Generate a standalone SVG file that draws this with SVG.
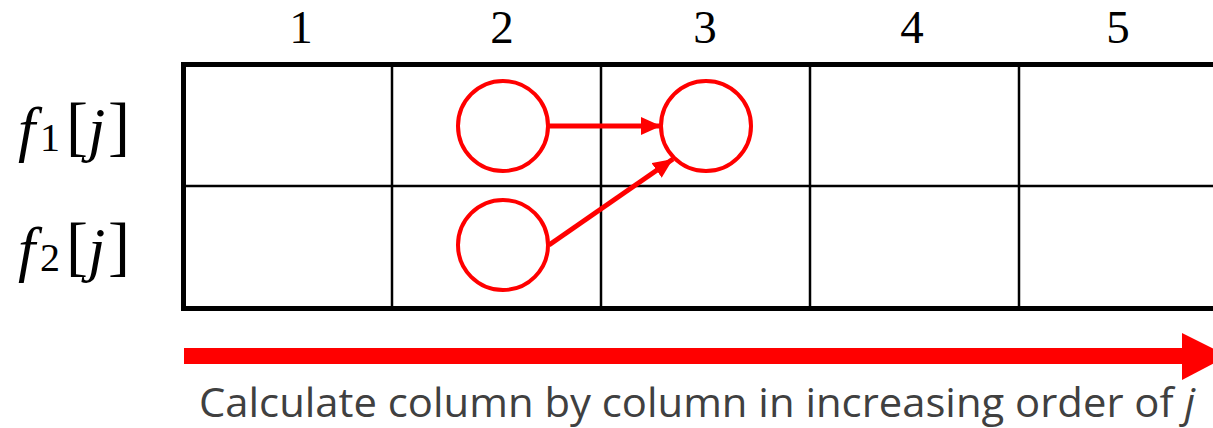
<svg xmlns="http://www.w3.org/2000/svg" width="1213" height="428" viewBox="0 0 1213 428">
<style>
.num{font-family:"Liberation Serif",serif;font-size:47px;fill:#000;text-anchor:middle}
.lab{font-family:"Liberation Serif",serif;font-size:62px;fill:#000}
.it{font-style:italic}
.sub{font-size:40px}
.br{font-size:66px}
.thin{stroke:#000;stroke-width:2.5;fill:none}
.thick{stroke:#000;stroke-width:5;fill:none}
.node{fill:none;stroke:#ff0000;stroke-width:4}
.edge{stroke:#ff0000;stroke-width:5;fill:none}
.cap{font-family:"Open Sans","Noto Sans",sans-serif;font-size:41px;fill:#404040}
</style>
<defs>
<marker id="ah" markerUnits="userSpaceOnUse" markerWidth="22" markerHeight="18" refX="20" refY="9" orient="auto">
<path d="M0,0 L20,9 L0,18 Z" fill="#ff0000"/>
</marker>
</defs>
<g id="grid">
<line class="thin" x1="183" y1="186" x2="1213" y2="186"/>
<line class="thin" x1="392" y1="65" x2="392" y2="309"/>
<line class="thin" x1="601" y1="65" x2="601" y2="309"/>
<line class="thin" x1="810" y1="65" x2="810" y2="309"/>
<line class="thin" x1="1019" y1="65" x2="1019" y2="309"/>
<line class="thick" x1="183" y1="64.5" x2="1213" y2="64.5"/>
<line class="thick" x1="183" y1="308.5" x2="1213" y2="308.5"/>
<line class="thick" x1="183.5" y1="62" x2="183.5" y2="311"/>
</g>
<g id="col-labels">
<text class="num" x="301" y="43">1</text>
<text class="num" x="502" y="43">2</text>
<text class="num" x="705" y="43">3</text>
<text class="num" x="912" y="43">4</text>
<text class="num" x="1118" y="43">5</text>
</g>
<g id="row-label-1">
<text class="lab it" x="18" y="150">f</text>
<text class="lab sub" x="40" y="151">1</text>
<text class="lab br" x="66" y="148">[</text>
<text class="lab it" x="88" y="150">j</text>
<text class="lab br" x="108" y="148">]</text>
</g>
<g id="row-label-2">
<text class="lab it" x="18" y="270">f</text>
<text class="lab sub" x="40" y="271">2</text>
<text class="lab br" x="66" y="268">[</text>
<text class="lab it" x="88" y="270">j</text>
<text class="lab br" x="108" y="268">]</text>
</g>
<g id="node-f1-2"><circle class="node" cx="503" cy="126" r="45"/></g>
<g id="node-f1-3"><circle class="node" cx="706" cy="126" r="45"/></g>
<g id="node-f2-2"><circle class="node" cx="503" cy="245" r="45"/></g>
<g id="connectors">
<line class="edge" x1="548" y1="126" x2="661" y2="126" marker-end="url(#ah)"/>
<line class="edge" x1="549" y1="245" x2="673" y2="159" marker-end="url(#ah)"/>
</g>
<g id="order-arrow">
<rect x="184" y="348" width="1000" height="16" fill="#ff0000"/>
<path d="M1182,333 L1228,356 L1182,380 Z" fill="#ff0000"/>
</g>
<g id="caption">
<text class="cap" x="199" y="417" textLength="996" lengthAdjust="spacingAndGlyphs">Calculate column by column in increasing order of <tspan font-style="italic">j</tspan></text>
</g>
</svg>
